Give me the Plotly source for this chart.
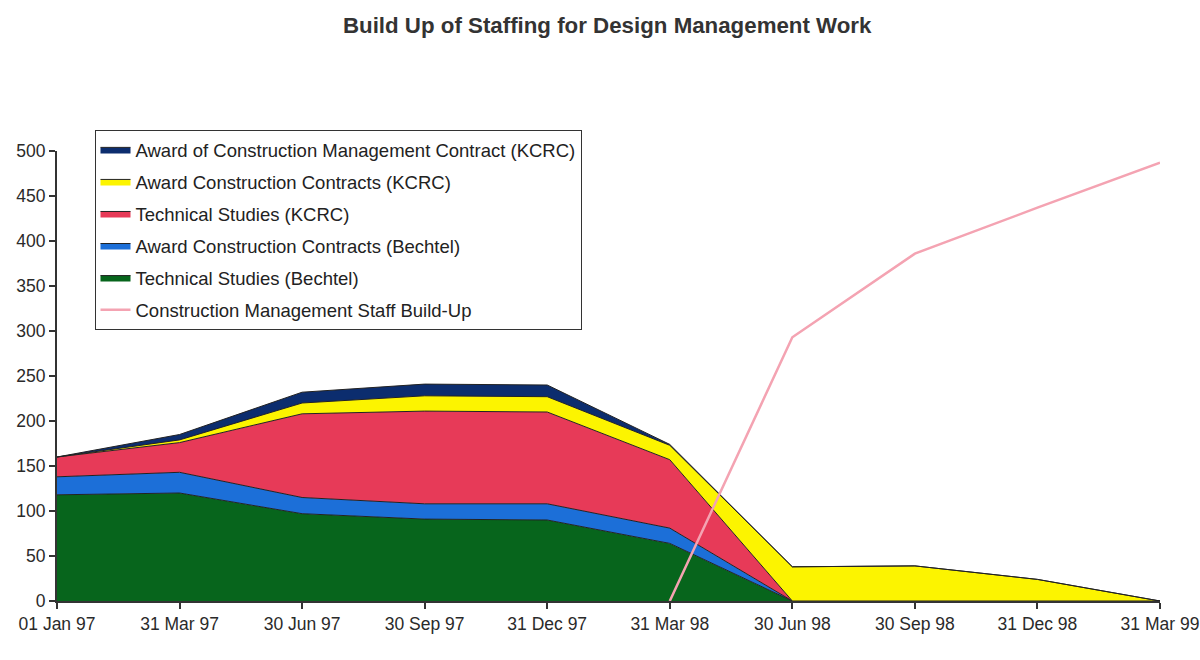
import plotly.graph_objects as go

# Quarter dates on the x axis
dates = ['01 Jan 97', '31 Mar 97', '30 Jun 97', '30 Sep 97', '31 Dec 97',
         '31 Mar 98', '30 Jun 98', '30 Sep 98', '31 Dec 98', '31 Mar 99']

# Stacked staff numbers (bottom to top)
tech_bechtel = [118, 120, 97, 91, 90, 64, 0, 0, 0, 0]
award_bechtel = [20, 23, 18, 17, 18, 17, 0, 0, 0, 0]
tech_kcrc = [22, 33, 93, 103, 102, 76, 0, 0, 0, 0]
award_kcrc = [0, 3, 12, 17, 17, 16, 38, 39, 24, 0]
award_cm_kcrc = [0, 6, 12, 13, 13, 1, 0, 0, 0, 0]

# Construction management line
cm_staff = [None, None, None, None, None, 0, 293, 386, 437, 487]

font_family = 'Liberation Sans, Arial, sans-serif'

areas = [
    ('Technical Studies (Bechtel)', tech_bechtel, '#07651c', 5),
    ('Award Construction Contracts (Bechtel)', award_bechtel, '#1c6fd8', 4),
    ('Technical Studies (KCRC)', tech_kcrc, '#e73a58', 3),
    ('Award Construction Contracts (KCRC)', award_kcrc, '#fcf400', 2),
    ('Award of Construction Management Contract (KCRC)', award_cm_kcrc, '#0c2d6e', 1),
]

fig = go.Figure()

for name, vals, color, rank in areas:
    fig.add_trace(go.Scatter(
        x=dates, y=vals, name=name,
        mode='lines', stackgroup='one',
        line=dict(color='#222222', width=1),
        fillcolor=color,
        legendrank=rank, legendgroup=name,
    ))

fig.add_trace(go.Scatter(
    x=dates, y=cm_staff, name='Construction Management Staff Build-Up',
    mode='lines', line=dict(color='#f4a3b2', width=2.5),
    legendrank=6, legendgroup='cm',
))

fig.update_layout(
    width=1200, height=660,
    paper_bgcolor='white', plot_bgcolor='white',
    margin=dict(l=57, r=40, t=151, b=59),
    font=dict(family=font_family, size=17.5, color='#2a2a2a'),
    title=dict(text='<b>Build Up of Staffing for Design Management Work</b>',
               x=0.506, xanchor='center', y=0.962, yanchor='middle',
               font=dict(size=22.3, color='#333333')),
    legend=dict(x=0.034, y=1.047, xanchor='left', yanchor='top',
                bordercolor='#333333', borderwidth=1, bgcolor='white',
                tracegroupgap=5, font=dict(size=18.5, color='#222222')),
    showlegend=True,
)

fig.update_xaxes(
    type='category', range=[0, 9], automargin=False,
    showgrid=False, showline=True, linecolor='#333333', linewidth=2,
    ticks='outside', ticklen=6, tickwidth=2, tickcolor='#333333',
)
fig.update_yaxes(
    range=[0, 500], dtick=50, automargin=False,
    showgrid=False, showline=True, linecolor='#333333', linewidth=2,
    ticks='outside', ticklen=6, tickwidth=2, tickcolor='#333333',
    zeroline=False,
)

# drop the default page margin so the 1200x660 figure fills the window
fig.write_html('out.html', config={'displayModeBar': False},
               post_script="document.body.style.margin = '0';")
